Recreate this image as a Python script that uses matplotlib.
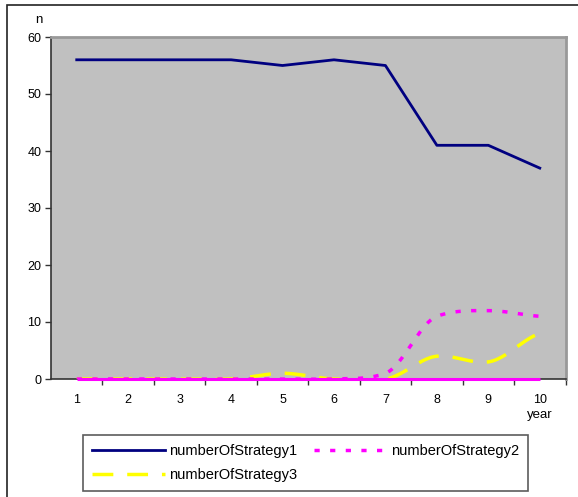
import numpy as np
import matplotlib
matplotlib.use("Agg")
import matplotlib.pyplot as plt
from matplotlib.patches import Rectangle
from matplotlib.lines import Line2D

plt.rcParams['font.family'] = ['Liberation Sans', 'DejaVu Sans']

years = [1, 2, 3, 4, 5, 6, 7, 8, 9, 10]
strategy1 = [56, 56, 56, 56, 55, 56, 55, 41, 41, 37]
strategy2 = [0, 0, 0, 0, 0, 0, 1, 11, 12, 11]
strategy3 = [0, 0, 0, 0, 1, 0, 0, 4, 3, 8]
baseline = [0, 0, 0, 0, 0, 0, 0, 0, 0, 0]
y_ticks = [0, 10, 20, 30, 40, 50, 60]


def smooth(xs, ys, n=24, tension=0.6):
    """Cardinal (Hermite) spline through the points for a smoothed line."""
    xs = np.asarray(xs, float)
    ys = np.asarray(ys, float)
    m = len(xs)
    tan = np.zeros(m)
    for i in range(m):
        a, b = max(i - 1, 0), min(i + 1, m - 1)
        tan[i] = (ys[b] - ys[a]) / (b - a) * tension
    t = np.linspace(0, 1, n, endpoint=False)
    h00 = 2 * t ** 3 - 3 * t ** 2 + 1
    h10 = t ** 3 - 2 * t ** 2 + t
    h01 = -2 * t ** 3 + 3 * t ** 2
    h11 = t ** 3 - t ** 2
    ox, oy = [], []
    for i in range(m - 1):
        dx = xs[i + 1] - xs[i]
        ox.extend(xs[i] + t * dx)
        oy.extend(h00 * ys[i] + h10 * dx * tan[i] + h01 * ys[i + 1] + h11 * dx * tan[i + 1])
    ox.append(xs[-1])
    oy.append(ys[-1])
    return np.array(ox), np.array(oy)


W, H = 578, 497
fig = plt.figure(figsize=(W / 100, H / 100), dpi=100)

# outer chart frame
fig.patches.append(Rectangle((7 / W, -0.05), 1.1, 1 - 5 / H + 0.05, transform=fig.transFigure,
                             fill=False, edgecolor='#222222', linewidth=1.2))

left, right, top, bottom = 51, 565.5, 37, 379
ax = fig.add_axes([left / W, 1 - bottom / H, (right - left) / W, (bottom - top) / H])
ax.set_facecolor('#c0c0c0')

navy = '#000080'
magenta = '#ff00ff'
yellow = '#ffff00'

sx, sy = smooth(years, strategy3)
ax.plot(sx, sy, color=yellow, lw=2.5, dashes=(6, 4), zorder=3)
sx, sy = smooth(years, strategy2)
ax.plot(sx, sy, color=magenta, lw=2.5, dashes=(1.5, 3), zorder=4)
ax.plot(years, baseline, color=magenta, lw=2.2, solid_capstyle='butt', zorder=4.5, clip_on=False)
ax.plot(years, strategy1, color=navy, lw=2, zorder=5)

ax.set_xlim(0.5, 10.5)
ax.set_ylim(0, 60)
ax.set_yticks(y_ticks)
ax.set_xticks([y + 0.5 for y in years])
ax.set_xticklabels([])
ax.set_xticks(years, minor=True)
ax.set_xticklabels([str(y) for y in years], minor=True)
ax.tick_params(axis='x', which='minor', length=0, pad=11, labelsize=9)
ax.tick_params(axis='x', which='major', length=4, direction='out', width=1, color='#333333')
ax.tick_params(axis='y', length=4, direction='out', width=1, labelsize=9, color='#333333', pad=3)

for s in ('left', 'bottom'):
    ax.spines[s].set_color('#333333')
    ax.spines[s].set_linewidth(1.2)
for s in ('top', 'right'):
    ax.spines[s].set_color('#999999')
    ax.spines[s].set_linewidth(2)

fig.text(39 / W, 1 - 20 / H, 'n', fontsize=9.5, ha='center', va='center')
fig.text(540 / W, 1 - 415 / H, 'year', fontsize=9.5, ha='center', va='center')

# legend entries in row order: Strategy1, Strategy2 on the first row
h1 = Line2D([], [], color=navy, lw=2)
h2 = Line2D([], [], color=magenta, lw=2.5, dashes=(1.5, 3))
h3 = Line2D([], [], color=yellow, lw=2.5, dashes=(6, 4))
handles = [h1, h3, h2]
labels = ['numberOfStrategy1', 'numberOfStrategy3', 'numberOfStrategy2']
leg = fig.legend(handles, labels, ncol=2, loc='upper left',
                 bbox_to_anchor=(83 / W, 1 - 435 / H), fontsize=10.5,
                 frameon=True, fancybox=False, edgecolor='#333333',
                 handlelength=5.05, handletextpad=0.25, columnspacing=1.15,
                 labelspacing=0.7, borderpad=0.6, borderaxespad=0)
leg.get_frame().set_linewidth(1.2)

fig.savefig('out.png', dpi=100)
